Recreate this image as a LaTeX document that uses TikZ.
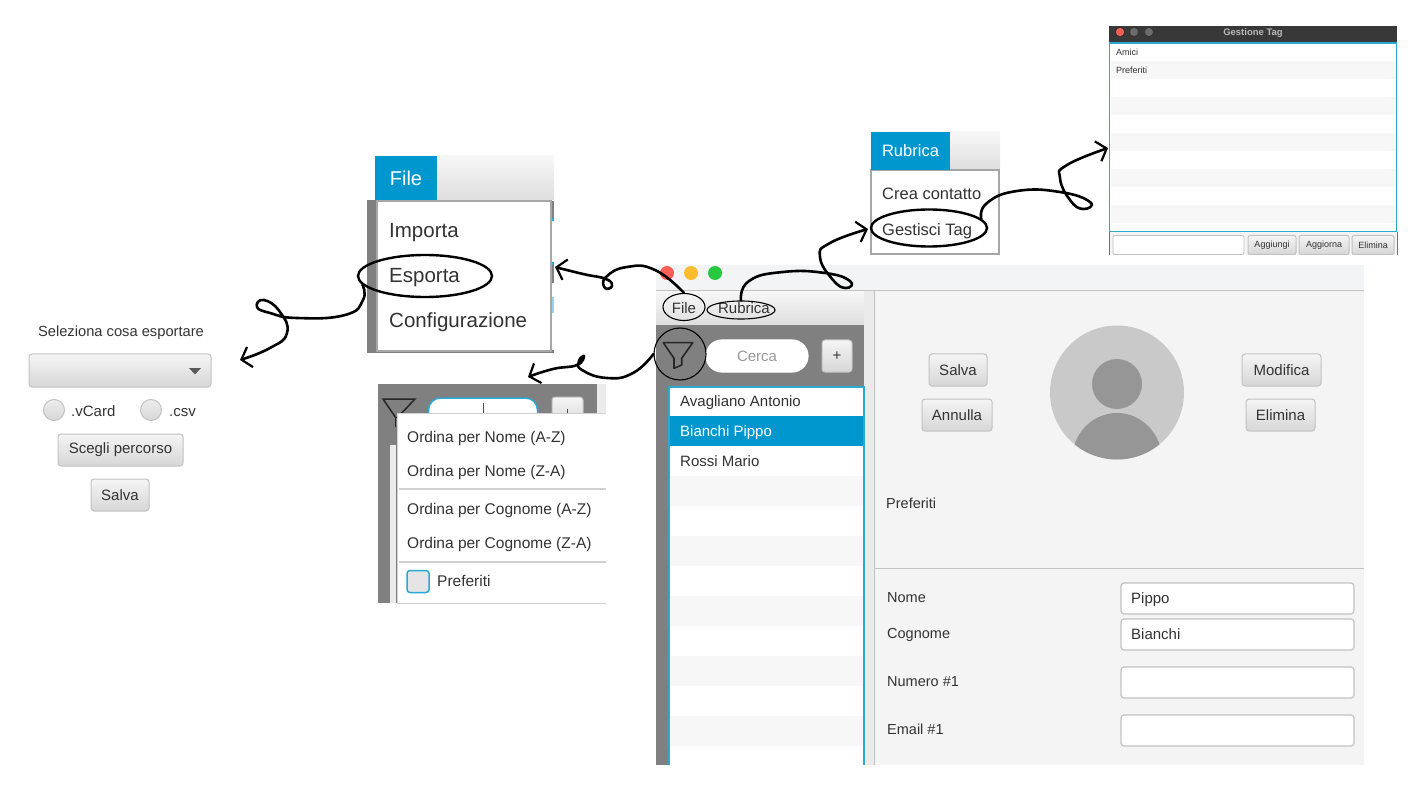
\documentclass[tikz,border=0pt]{standalone}
\usepackage{fontspec}
\setmainfont{Liberation Sans}
\usetikzlibrary{arrows.meta,shapes.geometric}
\definecolor{accent}{HTML}{0097CF}
\definecolor{lineblue}{HTML}{2AA9D6}
\definecolor{panel}{HTML}{F4F4F4}
\definecolor{stripe}{HTML}{F7F7F7}
\definecolor{midgray}{HTML}{808080}
\definecolor{txt}{HTML}{333333}
\definecolor{edge}{HTML}{C2C2C2}
\definecolor{tlred}{HTML}{FF5F57}
\definecolor{tlyel}{HTML}{FEBC2E}
\definecolor{tlgrn}{HTML}{28C840}
\definecolor{tbar}{HTML}{F3F4F6}
\tikzset{
  lbl/.style={anchor=base west,inner sep=0pt,yshift={-0.34*#1*1pt},text=txt,font=\fontsize{#1}{#1}\selectfont},
  lblc/.style={anchor=base,inner sep=0pt,yshift={-0.34*#1*1pt},text=txt,font=\fontsize{#1}{#1}\selectfont},
  btn/.style={draw=edge,line width=1pt,rounded corners=3pt,top color=white!96!black,bottom color=white!84!black,inner sep=0pt,text=txt,font=\fontsize{#1}{#1}\selectfont},
  field/.style={draw=edge,line width=1.2pt,rounded corners=3pt,fill=white,inner sep=0pt},
  radio/.style={circle,draw=edge,line width=1pt,top color=white!93!black,bottom color=white!84!black,inner sep=0pt,minimum size=21pt},
  hand/.style={line width=2.6pt,black,line cap=round,line join=round,-{Straight Barb[length=9pt,width=21pt,line width=2.2pt]}},
  mark1/.style={ellipse,draw=black,inner sep=0pt,line width=1.1pt},
  mark2/.style={ellipse,draw=black,inner sep=0pt,line width=2.4pt},
  menubar/.style={top color=white!97!black,bottom color=white!87!black}
}
\begin{document}
\begin{tikzpicture}[x=1pt,y=-1pt]
\useasboundingbox (0,0) rectangle (1414,786);
% ---- main window
\fill[fill=panel] (656,265) rectangle (1364,765);
\fill[tbar] (656,265) rectangle (1364,290);
\fill[menubar] (656,291) rectangle (864,325);
\fill[midgray] (656,325) rectangle (864,765);
\fill[white!92!black] (864,291) rectangle (874,765);
\draw[edge,line width=1.4pt] (656,290.5) -- (1364,290.5);
\draw[edge,line width=1.6pt] (874.5,291) -- (874.5,765);
\draw[edge,line width=1.4pt] (875,568.5) -- (1364,568.5);
\fill[white] (668,386) rectangle (864,765);
\foreach \yy in {476,536,596,656,716} \fill[stripe] (669,\yy) rectangle (863,\yy+30);
\fill[accent] (669,416) rectangle (863,446);
\draw[lineblue,line width=2pt] (669,765) -- (669,387) -- (864,387) -- (864,765);
\fill[tlred] (667,273) circle (7);
\fill[tlyel] (691,273) circle (7);
\fill[tlgrn] (715,273) circle (7);
\node[lblc=15] (mfile) at (684,308) {File};
\node[lblc=15] (mrub) at (744,308) {Rubrica};
\node[field,draw=white,rounded corners=16pt,minimum width=102pt,minimum height=32pt] (cerca) at (757,356) {};
\node[lblc=15,text=black!40] (cercat) at (757,356) {Cerca};
\node[btn=15,minimum width=30pt,minimum height=32pt] (plus) at (837,356) {+};
\node[lbl=15] (l1) at (680,401) {Avagliano Antonio};
\node[lbl=15,text=white] (l2) at (680,431) {Bianchi Pippo};
\node[lbl=15] (l3) at (680,461) {Rossi Mario};
% avatar
\fill[black!21] (1117,392.5) circle (67);
\begin{scope}
\clip (1117,392.5) circle (67);
\fill[black!41] (1117,460) ellipse [x radius=45, y radius=47];
\end{scope}
\fill[black!41] (1117,384) circle (25);
\node[btn=15,minimum width=58pt,minimum height=32pt] (bsalva) at (958,370) {Salva};
\node[btn=15,minimum width=70pt,minimum height=32pt] (bann) at (957,415) {Annulla};
\node[btn=15,minimum width=79pt,minimum height=32pt] (bmod) at (1281.5,370) {Modifica};
\node[btn=15,minimum width=69pt,minimum height=32pt] (belim) at (1280.5,415) {Elimina};
\node[lbl=14.5] (pref) at (886,504) {Preferiti};
\node[lbl=14.5] (fn) at (887,598) {Nome};
\node[lbl=14.5] (fc) at (887,634) {Cognome};
\node[lbl=14.5] (fnu) at (887,682) {Numero \#1};
\node[lbl=14.5] (fe) at (887,730) {Email \#1};
\node[field,minimum width=233pt,minimum height=31pt] (tn) at (1237.5,598.5) {};
\node[field,minimum width=233pt,minimum height=31pt] (tc) at (1237.5,634.5) {};
\node[field,minimum width=233pt,minimum height=31pt] (tnu) at (1237.5,682.5) {};
\node[field,minimum width=233pt,minimum height=31pt] (te) at (1237.5,730.5) {};
\node[lbl=15] (vn) at (1131,598) {Pippo};
\node[lbl=15] (vc) at (1131,634) {Bianchi};
% funnel and marks
\draw[line width=1.6pt,black!85,line join=round] (663.3,342.7) -- (692.7,342.7) -- (681.7,358.3) -- (681.7,365) -- (674,368.3) -- (674,358.3) -- cycle;
\node[mark1,circle,minimum size=52pt] (fcirc) at (680,354) {};
\node[mark1,minimum width=42pt,minimum height=27pt] (efile) at (684,307) {};
\node[mark1,minimum width=68pt,minimum height=18pt] (erub) at (741,310) {};
% ---- File popup
\fill[menubar] (375,156) rectangle (554,200);
\fill[midgray] (367,200) rectangle (377,353);
\fill[midgray] (551,201) rectangle (554,218);
\fill[lineblue] (551,218) rectangle (554,221);
\fill[lineblue] (551,262) rectangle (554,265);
\fill[midgray] (551,265) rectangle (554,283);
\fill[lineblue!50] (551,297) rectangle (554,313);
\fill[midgray] (377,350) rectangle (554,353);
\node[draw=black!35,line width=1.5pt,fill=white,minimum width=174pt,minimum height=150pt,inner sep=0pt] (fpop) at (464,276) {};
\node[fill=accent,minimum width=62pt,minimum height=44pt,inner sep=0pt,text=white,font=\fontsize{20}{20}\selectfont] (ftab) at (406,178) {File};
\node[lbl=20.5] (imp) at (389,231) {Importa};
\node[lbl=20.5] (esp) at (389,276) {Esporta};
\node[lbl=20.5] (conf) at (389,321) {Configurazione};
\node[mark2,minimum width=134pt,minimum height=42pt] (eesp) at (425,276) {};
% ---- Rubrica popup
\fill[menubar] (871,132) rectangle (1000,170);
\node[draw=black!35,line width=1.2pt,fill=white,minimum width=128pt,minimum height=84pt,inner sep=0pt] (rpop) at (935,212) {};
\node[fill=accent,minimum width=79pt,minimum height=38pt,inner sep=0pt,text=white,font=\fontsize{16.5}{16.5}\selectfont] (rtab) at (910.5,151) {Rubrica};
\node[lbl=16.5] (crea) at (882,194) {Crea contatto};
\node[lbl=16.5] (gest) at (882,230) {Gestisci Tag};
\node[mark2,minimum width=116pt,minimum height=37pt] (egest) at (929,228) {};
% ---- Gestione Tag window
\fill[panel] (1109,43) rectangle (1397,255);
\draw[black!55,line width=.8pt] (1109.5,232) -- (1109.5,255);
\draw[black!55,line width=.8pt] (1397,232) -- (1397,255);
\fill[black!78] (1109,26) rectangle (1397,43);
\fill[tlred] (1120,32) circle (4);
\fill[black!58] (1134,32) circle (4);
\fill[black!58] (1149,32) circle (4);
\node[lblc=9.5,text=black!28,font=\fontsize{9.5}{9.5}\selectfont\bfseries] (gtitle) at (1253,32) {Gestione Tag};
\fill[white] (1109.5,43) rectangle (1397,232);
\foreach \yy in {61,97,133,169,205} \fill[stripe] (1111,\yy) rectangle (1396,\yy+18);
\draw[lineblue,line width=1.2pt] (1109.5,43) rectangle (1396.8,231.5);
\node[lbl=9] (gam) at (1116,52) {Amici};
\node[lbl=9] (gpr) at (1116,70) {Preferiti};
\node[field,line width=.8pt,rounded corners=2pt,minimum width=131pt,minimum height=19pt] (gf) at (1178.5,245) {};
\node[btn=9,rounded corners=2pt,minimum width=48pt,minimum height=19pt] (gb1) at (1272,245) {Aggiungi};
\node[btn=9,rounded corners=2pt,minimum width=50pt,minimum height=19pt] (gb2) at (1324,245) {Aggiorna};
\node[btn=9,rounded corners=2pt,minimum width=42pt,minimum height=19pt] (gb3) at (1373,245) {Elimina};
\coordinate (gwin) at (1108,148);
% ---- Filter popup
\fill[midgray] (378,384) rectangle (597,603);
\fill[white!92!black] (597,384) rectangle (606,414);
\fill[white!92!black] (390,445) rectangle (396,603);
\node[field,draw=lineblue,line width=1.5pt,rounded corners=12pt,minimum width=109pt,minimum height=30pt] (ocerca) at (483,413) {};
\draw[black!70,line width=1pt] (483,403) -- (483,414);
\node[btn=15,minimum width=31pt,minimum height=32pt] (oplus) at (567.5,413) {};
\draw[black!70,line width=1pt] (567.5,409) -- (567.5,414);
\draw[black!85,line width=1.5pt] (396,418) -- (383,399) -- (415,399) -- (397,418);
\draw[black!85,line width=1.5pt] (395.5,417) -- (395.5,427);
\fill[white] (397,414) rectangle (606,603);
\draw[black!18,line width=1.3pt] (397,413.5) -- (606,413.5);
\draw[black!18,line width=1pt] (397,414) -- (397,603.5) -- (606,603.5);
\draw[black!18,line width=1.2pt] (399,489) -- (606,489);
\draw[black!18,line width=1.5pt] (399,562) -- (606,562);
\node[lbl=15.5] (o1) at (407,437) {Ordina per Nome (A-Z)};
\node[lbl=15.5] (o2) at (407,471) {Ordina per Nome (Z-A)};
\node[lbl=15.5] (o3) at (407,509) {Ordina per Cognome (A-Z)};
\node[lbl=15.5] (o4) at (407,543) {Ordina per Cognome (Z-A)};
\node[draw=lineblue,line width=1.5pt,rounded corners=3pt,fill=black!10,minimum size=22pt,inner sep=0pt] (ochk) at (418,581.5) {};
\node[lbl=15.5] (o5) at (437,581) {Preferiti};
\coordinate (opop) at (528,377);
% ---- Export dialog
\node[lblc=14.7] (stitle) at (121,332) {Seleziona cosa esportare};
\node[btn=14,minimum width=182pt,minimum height=33pt] (combo) at (120,370.5) {};
\fill[black!65] (189,368) -- (201,368) -- (195,374.5) -- cycle;
\node[radio] (r1) at (54,410) {};
\node[radio] (r2) at (151,410) {};
\node[lbl=15] (rt1) at (71,411) {.vCard};
\node[lbl=15] (rt2) at (169,411) {.csv};
\node[btn=15,minimum width=125pt,minimum height=32pt] (bperc) at (120.5,450) {Scegli percorso};
\node[btn=15,minimum width=58pt,minimum height=32pt] (bsav2) at (120,495) {Salva};
\coordinate (sdlg) at (240,360);
\coordinate (fpe) at (555,267);
\coordinate (rpw) at (868,229);
% ---- hand-drawn connectors
\draw[hand] plot[smooth,tension=.85] coordinates {(efile.north) (655,270) (627,267) (606,277) (605,288) (612,286) (606,279) (583,274) (fpe)};
\draw[hand] plot[smooth,tension=.85] coordinates {(fcirc.west) (633,373) (607,378) (582,370) (579,361) (584,356) (577,365) (553,369) (opop)};
\draw[hand] plot[smooth,tension=.85] coordinates {(erub.north) (749,281) (783,272) (825,273) (850,281) (846,288) (833,280) (820,257) (830,243) (rpw)};
\draw[hand] plot[smooth,tension=.85] coordinates {(egest.10) (987,203) (1017,191) (1060,192) (1090,202) (1083,209) (1070,200) (1060,178) (1067,165) (gwin)};
\draw[hand] plot[smooth,tension=.85] coordinates {(eesp.188) (363,300) (345,315) (297,318) (270,313) (257,307) (264,300) (280,312) (287,333) (270,348) (sdlg)};
\end{tikzpicture}
\end{document}
